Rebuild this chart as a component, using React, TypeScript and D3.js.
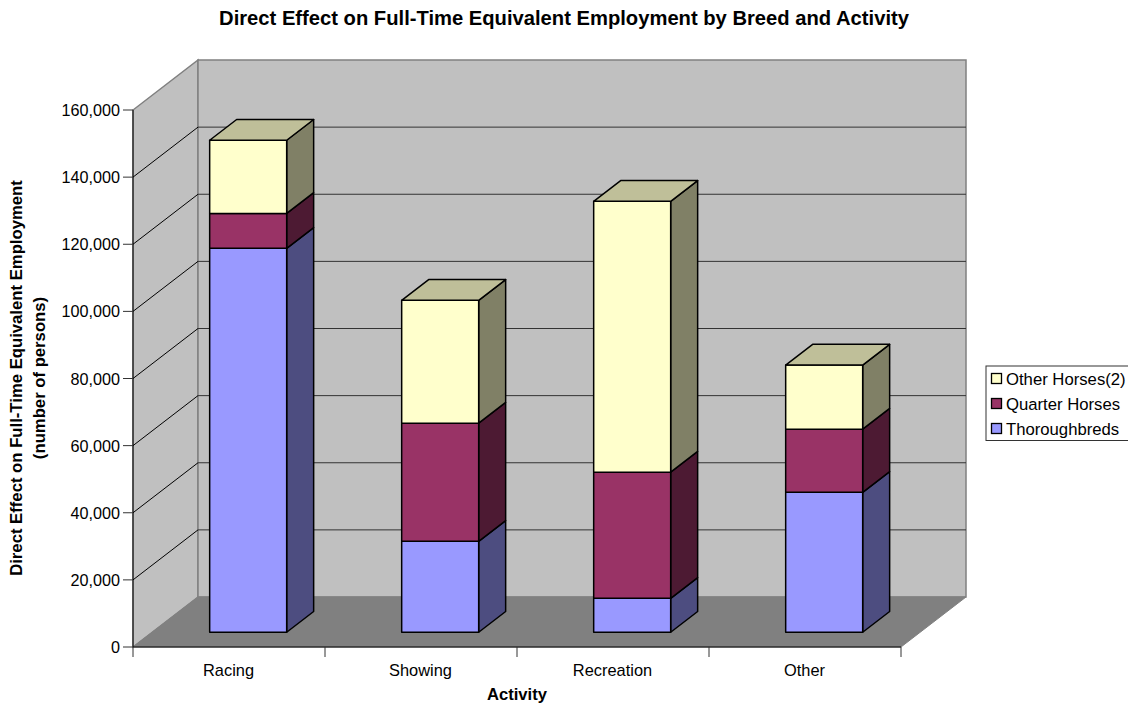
import React from "react";
import * as d3 from "d3";

const title = "Direct Effect on Full-Time Equivalent Employment by Breed and Activity";
const yTitleLines = ["Direct Effect on Full-Time Equivalent Employment", "(number of persons)"];
const xTitle = "Activity";
const categories = ["Racing", "Showing", "Recreation", "Other"];
const seriesNames = ["Thoroughbreds", "Quarter Horses", "Other Horses(2)"];
const thoroughbreds = [114400, 27100, 10100, 41700];
const quarterHorses = [10400, 35200, 37600, 18800];
const otherHorses = [21800, 36600, 80700, 19100];
const yTicks = [0, 20000, 40000, 60000, 80000, 100000, 120000, 140000, 160000];
const frontColors = ["#9999ff", "#993366", "#ffffcc"];
const sideColors = ["#4d4d80", "#4d1a33", "#808066"];
const topColor = "#bfbf99";

const FONT = "'Liberation Sans', Arial, sans-serif";
const x = d3.scaleBand<string>().domain(categories).range([133, 901]).paddingInner(0).paddingOuter(0);
const y = d3.scaleLinear().domain([0, 160000]).range([647, 110]);
const DEPTH_X = 65;
const DEPTH_Y = -50;
const BAR_W = 77;
const BAR_D0 = 0.295;
const BAR_D1 = 0.71;
const fmt = d3.format(",");

const pt = (px: number, py: number, d: number) => [px + DEPTH_X * d, py + DEPTH_Y * d] as [number, number];
const poly = (ps: [number, number][]) => ps.map((p) => p.join(",")).join(" ");

const stacked = d3
  .stack<number>()
  .keys([0, 1, 2] as any)
  .value((i, k) => [thoroughbreds, quarterHorses, otherHorses][k as any][i])(categories.map((_, i) => i));

export default function App() {
  const x0 = x.range()[0];
  const x1 = x.range()[1];
  const y0 = y(0);
  const yT = y(160000);
  return (
    <svg width={1128} height={705} style={{ position: "absolute", left: 0, top: 0, display: "block" }} fontFamily={FONT}>
      <rect width={1128} height={705} fill="#fff" />
      <text x={564} y={25} textAnchor="middle" fontSize={20.2} fontWeight="bold">{title}</text>

      {/* walls */}
      <polygon points={poly([pt(x0, y0, 0), pt(x0, yT, 0), pt(x0, yT, 1), pt(x0, y0, 1)])} fill="#c0c0c0" stroke="#808080" strokeWidth={1.5} />
      <polygon points={poly([pt(x0, yT, 1), pt(x1, yT, 1), pt(x1, y0, 1), pt(x0, y0, 1)])} fill="#c0c0c0" stroke="#808080" strokeWidth={1.5} />
      <polygon points={poly([pt(x0, y0, 0), pt(x1, y0, 0), pt(x1, y0, 1), pt(x0, y0, 1)])} fill="#808080" stroke="#808080" />

      {/* gridlines */}
      {yTicks.slice(1, -1).map((t) => {
        const a = pt(x0, y(t), 0);
        const b = pt(x0, y(t), 1);
        const c = pt(x1, y(t), 1);
        return (
          <g key={t}>
            <line x1={a[0]} y1={a[1]} x2={b[0]} y2={b[1]} stroke="#000" strokeWidth={1} />
            <line x1={b[0]} y1={b[1]} x2={c[0]} y2={c[1]} stroke="#333" strokeWidth={1} />
          </g>
        );
      })}

      {/* axes */}
      <line x1={x0} y1={yT} x2={x0} y2={y0} stroke="#000" />
      <line x1={x0} y1={y0} x2={x1} y2={y0} stroke="#000" strokeWidth={1.2} />
      {yTicks.map((t) => (
        <g key={t}>
          <line x1={x0 - 10} y1={y(t)} x2={x0} y2={y(t)} stroke="#333" />
          <text x={x0 - 13} y={y(t) + 6} textAnchor="end" fontSize={16.2}>{fmt(t)}</text>
        </g>
      ))}
      {[...categories.map((c) => x(c) as number), x1].map((v) => (
        <line key={v} x1={v} y1={y0} x2={v} y2={y0 + 10} stroke="#333" />
      ))}
      {categories.map((c) => (
        <text key={c} x={(x(c) as number) + x.bandwidth() / 2 - 0.5} y={676} textAnchor="middle" fontSize={16.4}>{c}</text>
      ))}
      <text x={517} y={700} textAnchor="middle" fontSize={16.6} fontWeight="bold">{xTitle}</text>
      <text transform="translate(22,378) rotate(-90)" textAnchor="middle" fontSize={16.7} fontWeight="bold">{yTitleLines[0]}</text>
      <text transform="translate(44.5,378) rotate(-90)" textAnchor="middle" fontSize={16.7} fontWeight="bold">{yTitleLines[1]}</text>

      {/* bars */}
      {categories.map((c, i) => {
        const left = (x(c) as number) + (x.bandwidth() - BAR_W) / 2;
        const right = left + BAR_W;
        return (
          <g key={c} stroke="#000" strokeWidth={1.5} strokeLinejoin="round">
            {stacked.map((s, k) => {
              const yb = y(s[i][0]);
              const yt = y(s[i][1]);
              return (
                <g key={k}>
                  <polygon points={poly([pt(right, yb, BAR_D0), pt(right, yb, BAR_D1), pt(right, yt, BAR_D1), pt(right, yt, BAR_D0)])} fill={sideColors[k]} />
                  <polygon points={poly([pt(left, yb, BAR_D0), pt(right, yb, BAR_D0), pt(right, yt, BAR_D0), pt(left, yt, BAR_D0)])} fill={frontColors[k]} />
                </g>
              );
            })}
            {(() => {
              const yt = y(stacked[2][i][1]);
              return <polygon points={poly([pt(left, yt, BAR_D0), pt(right, yt, BAR_D0), pt(right, yt, BAR_D1), pt(left, yt, BAR_D1)])} fill={topColor} />;
            })()}
          </g>
        );
      })}

      {/* legend */}
      <rect x={986} y={366} width={150} height={74.5} fill="#fff" stroke="#333" />
      {[2, 1, 0].map((k, row) => (
        <g key={k}>
          <rect x={991.5} y={373.5 + row * 25} width={10} height={10} fill={frontColors[k]} stroke="#000" strokeWidth={1.3} />
          <text x={1006} y={384.5 + row * 25} fontSize={16.7}>{seriesNames[k]}</text>
        </g>
      ))}
    </svg>
  );
}
